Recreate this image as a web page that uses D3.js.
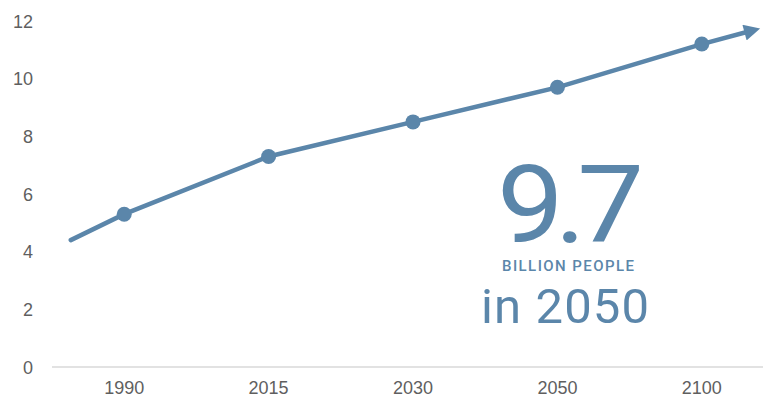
<!DOCTYPE html>
<html>
<head>
<meta charset="utf-8">
<script src="https://cdn.jsdelivr.net/npm/d3@7/dist/d3.min.js"></script>
<style>
  html, body { margin: 0; padding: 0; background: #fff; }
  svg { display: block; }
</style>
</head>
<body>
<script>
// ---- data ----
const categories = ["1990", "2015", "2030", "2050", "2100"];
const population = [5.3, 7.3, 8.5, 9.7, 11.2];      // billions
const yTicks = [0, 2, 4, 6, 8, 10, 12];
// line extends beyond first/last point (position in category units, value)
const lineStart = { pos: -0.37, value: 4.4 };
const lineEnd = { pos: 4.35, value: 11.67 };
const headline = "9.7";
const subline = "BILLION PEOPLE";
const yearLine = "in 2050";

// ---- layout ----
const W = 763, H = 401;
const color = "#5b86aa";
const svg = d3.select("body").append("svg").attr("width", W).attr("height", H);

const x = d3.scaleBand().domain(categories).range([52, 774]);
const xPos = d3.scaleLinear().domain([0, categories.length - 1])
  .range([x(categories[0]) + x.bandwidth() / 2, x(categories[categories.length - 1]) + x.bandwidth() / 2]);
const y = d3.scaleLinear().domain([0, 12]).range([367, 21]);

// y axis labels
const yAxis = d3.axisLeft(y).tickValues(yTicks).tickSize(0).tickPadding(0);
const gy = svg.append("g").attr("transform", "translate(33,0)").call(yAxis);
gy.select(".domain").remove();
gy.selectAll("text").attr("font-family", "Liberation Sans, Arial, sans-serif")
  .attr("font-size", 18).attr("fill", "#5f5f5f").attr("dy", "0.35em");

// x axis
const xAxis = d3.axisBottom(x).tickSize(0).tickPadding(14);
const gx = svg.append("g").attr("transform", "translate(0,367)").call(xAxis);
gx.select(".domain").attr("stroke", "#d9d9d9").attr("stroke-width", 1.3)
  .attr("d", `M52,0H${W}`);
gx.selectAll("text").attr("font-family", "Liberation Sans, Arial, sans-serif")
  .attr("font-size", 18).attr("fill", "#5f5f5f");

// line
const pts = [[lineStart.pos, lineStart.value]]
  .concat(population.map((v, i) => [i, v]))
  .concat([[lineEnd.pos, lineEnd.value]]);

const defs = svg.append("defs");
defs.append("marker").attr("id", "arrow")
  .attr("viewBox", "0 0 10 10").attr("refX", 5).attr("refY", 5)
  .attr("markerWidth", 4).attr("markerHeight", 3.6)
  .attr("markerUnits", "strokeWidth")
  .attr("orient", "auto")
  .append("path").attr("d", "M0,0L10,5L0,10Z").attr("fill", color);

svg.append("path")
  .datum(pts)
  .attr("fill", "none")
  .attr("stroke", color)
  .attr("stroke-width", 4.5)
  .attr("stroke-linecap", "round")
  .attr("marker-end", "url(#arrow)")
  .attr("d", d3.line().x(d => xPos(d[0])).y(d => y(d[1])));

svg.selectAll("circle.pt")
  .data(population)
  .join("circle")
  .attr("class", "pt")
  .attr("cx", (d, i) => xPos(i))
  .attr("cy", d => y(d))
  .attr("r", 7.5)
  .attr("fill", color);

// annotation
const font = "Roboto, Inter, 'Noto Sans', sans-serif";
const hs = 1.1;
svg.append("text").text(headline)
  .attr("transform", `translate(497,242) scale(${hs},1)`)
  .attr("font-family", font)
  .attr("font-size", 108).attr("font-weight", 400)
  .attr("textLength", 147 / hs).attr("lengthAdjust", "spacing")
  .attr("fill", color);

svg.append("text").text(subline)
  .attr("x", 502).attr("y", 271)
  .attr("font-family", font)
  .attr("font-size", 15).attr("font-weight", 500)
  .attr("textLength", 132).attr("lengthAdjust", "spacing")
  .attr("fill", color);

svg.append("text").text(yearLine)
  .attr("x", 481).attr("y", 323)
  .attr("font-family", font)
  .attr("font-size", 49).attr("font-weight", 400)
  .attr("textLength", 168).attr("lengthAdjust", "spacing")
  .attr("fill", color);
</script>
</body>
</html>
